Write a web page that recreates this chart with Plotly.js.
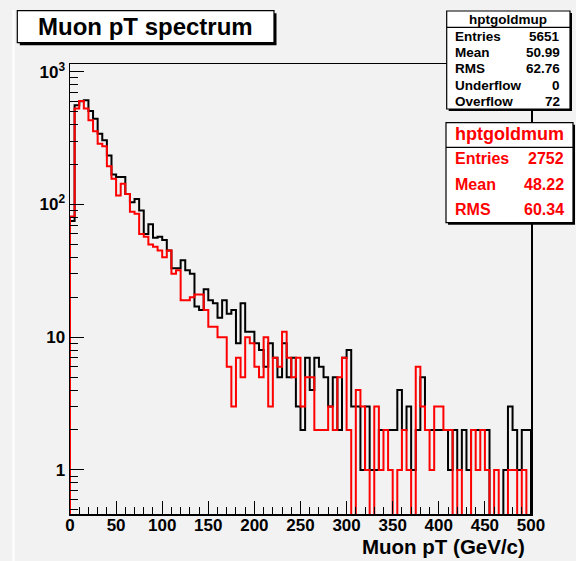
<!DOCTYPE html>
<html><head><meta charset="utf-8">
<script src="https://cdn.plot.ly/plotly-3.0.1.min.js"></script>
<style>html,body{margin:0;padding:0;background:#f2f2f2;}#chart{width:576px;height:561px;}</style>
</head><body><div id="chart"></div>
<script>
// 100 bins, 5 GeV wide, 0-500 GeV
const binWidth = 5;
const mupCounts = [75,560,600,610,506,443,341,304,234,168,
  161,161,120,104,110,90,60,71,56,57,
  54,45,33,33,38,32,30,17,16,23,
  19,18,14,19,15,16,9,18,11,11,
  9,8,6,9,7,5,9,5,7,3,
  2,7,4,7,6,5,3,5,2,7,
  8,3,3,1,3,1,1,2,2,2,
  2,4,2,3,1,2,5,2,2,2,
  2,2,1,2,1,2,1,2,2,2,
  2,0,0,0,1,3,2,1,2,2];
const mumCounts = [81,528,602,528,430,356,287,274,194,156,
  117,143,120,88,85,60,57,50,48,45,
  40,45,30,32,19,19,20,21,21,16,
  12,12,10,10,6,3,7,5,10,9,
  6,5,10,3,7,6,11,7,5,7,
  3,5,5,2,2,2,3,2,5,7,
  2,0,4,3,1,0,3,1,2,1,
  0,1,2,1,0,6,3,2,1,3,
  3,2,2,0,1,0,0,2,1,2,
  1,0,1,0,0,1,1,0,1,0];
const xTickVals = [0,50,100,150,200,250,300,350,400,450,500];
const yTickVals = [1,10,100,1000];
const yTickText = ['1','10','10<sup>2</sup>','10<sup>3</sup>'];
const yMinorVals = [0.5,0.6,0.7,0.8,0.9,2,3,4,5,6,7,8,9,20,30,40,50,60,70,80,90,200,300,400,500,600,700,800,900];
const statsMupLabels = ['Entries','Mean','RMS','Underflow','Overflow'];
const statsMupValues = ['5651','50.99','62.76','0','72'];
const statsMumLabels = ['Entries','Mean','RMS'];
const statsMumValues = ['2752','48.22','60.34'];

const FLOOR = 1e-3;
function stepTrace(counts, color){
  const x = [0], y = [FLOOR];
  counts.forEach((c,i)=>{ x.push(i*binWidth); y.push(c>0?c:FLOOR); });
  x.push(counts.length*binWidth); y.push(counts[counts.length-1]>0?counts[counts.length-1]:FLOOR);
  x.push(counts.length*binWidth); y.push(FLOOR);
  return {x:x, y:y, type:'scatter', mode:'lines', line:{shape:'hv', color:color, width:2}, hoverinfo:'skip', showlegend:false};
}

const L=70, R=531, T=64, B=514, W=R-L, H=B-T;
const px = v => (v-L)/W, py = v => (B-v)/H;
const FONT = 'Liberation Sans, Arial, Helvetica, sans-serif';

const shapes = [];
const annotations = [];
function box(x0,y0,x1,y1,sep,shadow){
  shapes.push({type:'rect',xref:'paper',yref:'paper',x0:px(x0+shadow),x1:px(x1+shadow),y0:py(y0+shadow),y1:py(y1+shadow),fillcolor:'#000',line:{width:0}});
  shapes.push({type:'rect',xref:'paper',yref:'paper',x0:px(x0),x1:px(x1),y0:py(y0),y1:py(y1),fillcolor:'#fff',line:{color:'#000',width:1.2}});
  if(sep) shapes.push({type:'line',xref:'paper',yref:'paper',x0:px(x0),x1:px(x1),y0:py(sep),y1:py(sep),line:{color:'#000',width:1.2}});
}
function txt(text,x,y,anchor,size,color){
  annotations.push({text:text,xref:'paper',yref:'paper',x:px(x),y:py(y),xanchor:anchor,yanchor:'middle',showarrow:false,
    font:{family:FONT,size:size,color:color||'#000',weight:'bold'}});
}
shapes.push({type:'line',xref:'paper',yref:'paper',x0:px(13.5),x1:px(13.5),y0:py(10),y1:py(561),line:{color:'#fff',width:2}});

box(17.3,10.7,274,42.7,null,2.5);
txt('Muon pT spectrum',145.6,26.7,'center',24);

box(446.7,11,570,109,27.3,2);
txt('hptgoldmup',508.3,19.2,'center',13.5);
const mupRowY=[36,52.5,69,85.5,101.5];
statsMupLabels.forEach((l,i)=>{ txt(l,452.5,mupRowY[i],'left',13.5); txt(statsMupValues[i],562,mupRowY[i],'right',13.5); });

box(446,122.7,573,222.7,147.3,2);
txt('hptgoldmum',509.5,134,'center',18,'#ff0000');
const mumRowY=[158.5,184.5,209.5];
statsMumLabels.forEach((l,i)=>{ txt(l,453.3,mumRowY[i],'left',16,'#ff0000'); txt(statsMumValues[i],566,mumRowY[i],'right',16,'#ff0000'); });

txt('Muon pT (GeV/c)',527,546,'right',20.5);

const layout = {
  width:576, height:561,
  margin:{l:L, r:576-R, t:T, b:561-B, pad:0},
  paper_bgcolor:'#f2f2f2', plot_bgcolor:'#f2f2f2',
  xaxis:{range:[0,500], showline:true, mirror:true, linecolor:'#000', linewidth:1.5,
    ticks:'inside', ticklen:13, tickwidth:1, tickcolor:'#000', tickvals:xTickVals, ticklabelstandoff:-5,
    minor:{ticks:'inside', ticklen:7, dtick:10, tickwidth:1, tickcolor:'#000', showgrid:false},
    showgrid:false, zeroline:false, tickfont:{family:FONT,size:17,weight:'bold',color:'#000'}},
  yaxis:{type:'log', range:[-0.332,3.058], showline:true, mirror:true, linecolor:'#000', linewidth:1.5,
    ticks:'inside', ticklen:14, tickwidth:1, tickcolor:'#000', tickvals:yTickVals, ticktext:yTickText,
    minor:{ticks:'inside', ticklen:8, tickwidth:1, tickcolor:'#000', showgrid:false, tickvals:yMinorVals},
    showgrid:false, zeroline:false, tickfont:{family:FONT,size:17,weight:'bold',color:'#000'}},
  shapes:shapes, annotations:annotations, showlegend:false
};
Plotly.newPlot('chart',[stepTrace(mupCounts,'#000000'),stepTrace(mumCounts,'#ff0000')],layout,{staticPlot:true});
</script></body></html>
